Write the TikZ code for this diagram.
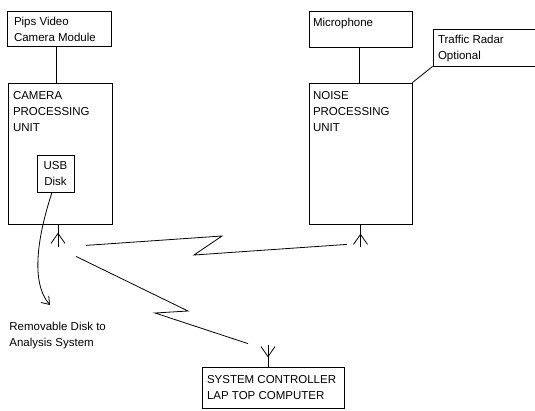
\documentclass[tikz,border=0pt]{standalone}
\usepackage{fontspec}
\setmainfont{Liberation Sans}
\usetikzlibrary{arrows.meta}

\begin{document}
\begin{tikzpicture}[x=1pt,y=-1pt,line width=0.8pt]
                            \tikzset{unit box/.style 2 args={draw,rectangle,inner sep=0pt,
                            minimum width=#1,minimum height=#2}}
                            \tikzset{box text/.style={anchor=north west,inner sep=0pt,align=left,
                            font=\fontsize{11.5}{16}\selectfont}}

                            \useasboundingbox (0,0) rectangle (535,410);

                            \node [unit box={104pt}{35pt}] (pips) at (59,28.5) {};
                            \node [unit box={104pt}{141pt}] (cpu) at (60,153.5) {};
                            \node [unit box={37pt}{37pt},align=center,
                              font=\fontsize{11.5}{16}\selectfont] (usb) at (55.5,173.5) {USB\\Disk};
                            \node [unit box={103pt}{36pt}] (mic) at (360.5,29) {};
                            \node [unit box={103pt}{141pt}] (npu) at (360.5,153.5) {};
                            \node [unit box={112pt}{37pt}] (radar) at (489,47.5) {};
                            \node [unit box={142pt}{41pt}] (ctrl) at (273,387.5) {};

                            \node [box text] (pipstext) at ([xshift=7pt,yshift=-6pt]pips.north west) {Pips Video\\Camera Module};
                            \node [box text] (cputext) at ([xshift=5pt,yshift=-8pt]cpu.north west) {CAMERA\\PROCESSING\\UNIT};
                            \node [box text] (mictext) at ([xshift=4pt,yshift=-7pt]mic.north west) {Microphone};
                            \node [box text] (nputext) at ([xshift=4pt,yshift=-8pt]npu.north west) {NOISE\\PROCESSING\\UNIT};
                            \node [box text] (radartext) at ([xshift=5pt,yshift=-6pt]radar.north west) {Traffic Radar\\Optional};
                            \node [box text] (ctrltext) at ([xshift=5pt,yshift=-8pt]ctrl.north west) {SYSTEM CONTROLLER\\LAP TOP COMPUTER};
                            \node [box text] (disktext) at (9,322) {Removable Disk to\\Analysis System};

                            \draw ([xshift=-3pt]pips.south) -- ([xshift=-4pt]cpu.north);
                            \draw ([xshift=-1.5pt]mic.south) -- ([xshift=-1.5pt]npu.north);
                            \draw (radar.south west) -- (npu.north east);

                            % antennas
                            \coordinate (camant) at ([xshift=-2pt]cpu.south);
                            \coordinate (npuant) at (npu.south);
                            \coordinate (ctrlant) at ([xshift=-5pt]ctrl.north);
                            \draw (camant) -- ++(0,23);
                            \draw (camant) ++(-7,19) -- ++(7,-10) -- ++(7,10);
                            \draw (npuant) -- ++(0,23);
                            \draw (npuant) ++(-7,20) -- ++(7,-10) -- ++(7,10);
                            \draw (ctrlant) -- ++(0,-22);
                            \draw (ctrlant) ++(-7,-20) -- ++(7,10) -- ++(7,-10);

                            % radio links
                            \coordinate (linka) at ([shift={(28,21)}]camant);
                            \coordinate (linkb) at ([shift={(-13.5,20)}]npuant);
                            \coordinate (linkc) at ([shift={(18,32)}]camant);
                            \coordinate (linkd) at ([shift={(-20,-23)}]ctrlant);
                            \draw (linka) -- (222,236) -- (194,255) -- (linkb);
                            \draw (linkc) -- (188,311) -- (155,313) -- (linkd);

                            \coordinate (diskdrop) at (50,305);
                            \draw [-{Straight Barb[length=7pt,width=10pt]}] ([xshift=-3.5pt]usb.south)
                              .. controls (38,235) and (30,282) .. (diskdrop);
                        \end{tikzpicture}
\end{document}
